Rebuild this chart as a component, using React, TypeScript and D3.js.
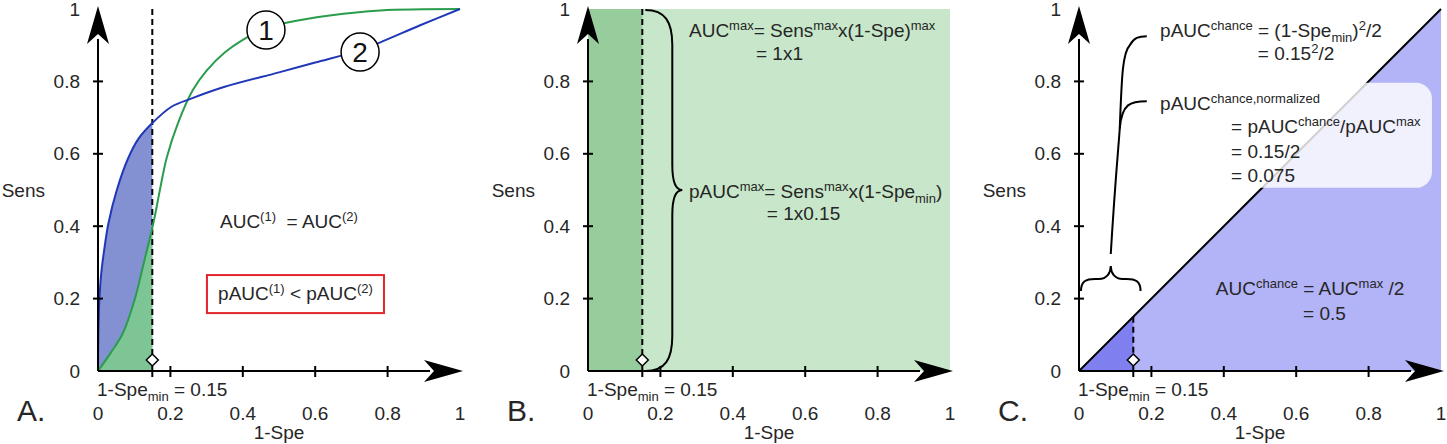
import React from 'react';
import * as d3 from 'd3';

type Pt = [number, number];
type Seg = [string, ('sup' | 'sub')?];

// threshold used in all three panels
const speMin = 0.15;

const xTickValues = [0, 0.2, 0.4, 0.6, 0.8, 1];
const xTickLabels = ['0', '0.2', '0.4', '0.6', '0.8', '1'];
const yTickValues = [0, 0.2, 0.4, 0.6, 0.8, 1];
const yTickLabels = ['0', '0.2', '0.4', '0.6', '0.8', '1'];
const panelLabels = ['A.', 'B.', 'C.'];

// ROC curve (1) - green
const roc1: Pt[] = [
  [0, 0], [0.035, 0.05], [0.069, 0.105], [0.101, 0.196], [0.124, 0.288], [0.153, 0.409],
  [0.171, 0.5], [0.19, 0.59], [0.221, 0.685], [0.262, 0.776], [0.3, 0.83], [0.35, 0.88],
  [0.4, 0.915], [0.46, 0.945], [0.52, 0.962], [0.64, 0.982], [0.78, 0.996], [1, 1],
];

// ROC curve (2) - blue
const roc2: Pt[] = [
  [0, 0], [0.001, 0.11], [0.004, 0.2], [0.009, 0.27], [0.017, 0.334], [0.029, 0.409],
  [0.052, 0.5], [0.083, 0.587], [0.112, 0.642], [0.148, 0.683], [0.203, 0.73], [0.259, 0.753],
  [0.35, 0.785], [0.5, 0.825], [0.6, 0.852], [0.72, 0.885], [0.78, 0.908], [0.89, 0.955], [1, 1],
];

// chance diagonal
const chance: Pt[] = [[0, 0], [1, 1]];

// curve labels: [name, x, y]
const curveLabels: [string, number, number][] = [['1', 0.464, 0.942], ['2', 0.724, 0.881]];

// annotation texts
const aucEqual: Seg[] = [['AUC'], ['(1)', 'sup'], ['  = AUC'], ['(2)', 'sup']];
const paucLess: Seg[] = [['pAUC'], ['(1)', 'sup'], [' < pAUC'], ['(2)', 'sup']];
const aucMax1: Seg[] = [['AUC'], ['max', 'sup'], ['= Sens'], ['max', 'sup'], ['x(1-Spe)'], ['max', 'sup']];
const aucMax2: Seg[] = [['= 1x1']];
const paucMax1: Seg[] = [['pAUC'], ['max', 'sup'], ['= Sens'], ['max', 'sup'], ['x(1-Spe'], ['min', 'sub'], [')']];
const paucMax2: Seg[] = [['= 1x0.15']];
const paucCh1: Seg[] = [['pAUC'], ['chance', 'sup'], [' = (1-Spe'], ['min', 'sub'], [')'], ['2', 'sup'], ['/2']];
const paucCh2: Seg[] = [['= 0.15'], ['2', 'sup'], ['/2']];
const paucNorm1: Seg[] = [['pAUC'], ['chance,normalized', 'sup']];
const paucNorm2: Seg[] = [['= pAUC'], ['chance', 'sup'], ['/pAUC'], ['max', 'sup']];
const paucNorm3: Seg[] = [['= 0.15/2']];
const paucNorm4: Seg[] = [['= 0.075']];
const aucCh1: Seg[] = [['AUC'], ['chance', 'sup'], [' = AUC'], ['max', 'sup'], [' /2']];
const aucCh2: Seg[] = [['= 0.5']];
const speMinLabel: Seg[] = [['1-Spe'], ['min', 'sub'], [' = 0.15']];

const W = 1447;
const H = 444;
const SIDE = 362;
const TOP = 9;
const panelX = [98, 588, 1079];
const TEXT = '#262626';
const FONT = '"Liberation Sans", Arial, Helvetica, sans-serif';

const RichText: React.FC<{ x: number; y: number; segs: Seg[]; size?: number; anchor?: string }> = ({
  x, y, segs, size = 19, anchor = 'start',
}) => {
  let shift = 0;
  return (
    <text x={x} y={y} fontSize={size} textAnchor={anchor} fill={TEXT} style={{ whiteSpace: 'pre' }}>
      {segs.map(([t, kind], i) => {
        const target = kind === 'sup' ? -7 : kind === 'sub' ? 5 : 0;
        const dy = target - shift;
        shift = target;
        return (
          <tspan key={i} dy={dy} fontSize={kind ? 13 : size}>
            {t}
          </tspan>
        );
      })}
    </text>
  );
};

const makeScales = (ox: number) => {
  const x = d3.scaleLinear().domain([0, 1]).range([ox, ox + SIDE]);
  const y = d3.scaleLinear().domain([0, 1]).range([TOP + SIDE, TOP]);
  return { x, y };
};

const Axes: React.FC<{ ox: number; label: string }> = ({ ox, label }) => {
  const { x, y } = makeScales(ox);
  const x0 = x(0), y0 = y(0), x1 = x(1), y1 = y(1);
  const xTickMarks = [speMin, ...xTickValues.slice(1, -1)];
  return (
    <g>
      <line x1={x0} y1={y0} x2={x1 - 30} y2={y0} stroke="#000" strokeWidth={2} />
      <path d={`M${x1 + 3},${y0} L${x1 - 36},${y0 - 11} L${x1 - 26},${y0} L${x1 - 36},${y0 + 11} Z`} fill="#000" />
      <line x1={x0} y1={y0} x2={x0} y2={y1 + 30} stroke="#000" strokeWidth={2} />
      <path d={`M${x0},${y1 - 3} L${x0 - 11},${y1 + 35} L${x0},${y1 + 25} L${x0 + 11},${y1 + 35} Z`} fill="#000" />
      {yTickValues.slice(1, -1).map((v) => (
        <line key={v} x1={x0 - 5} x2={x0 + 5} y1={y(v)} y2={y(v)} stroke="#000" strokeWidth={2} />
      ))}
      {xTickMarks.map((v) => (
        <line key={v} x1={x(v)} x2={x(v)} y1={y0 - 5} y2={y0 + 6} stroke="#000" strokeWidth={2} />
      ))}
      {yTickValues.map((v, i) => (
        <text key={v} x={x0 - 18} y={y(v) + 6.5} fontSize={19} textAnchor="end" fill={TEXT}>
          {yTickLabels[i]}
        </text>
      ))}
      {xTickValues.map((v, i) => (
        <text key={v} x={x(v)} y={420} fontSize={19} textAnchor="middle" fill={TEXT}>
          {xTickLabels[i]}
        </text>
      ))}
      <RichText x={x0 - 1} y={396} segs={speMinLabel} />
      <text x={(x0 + x1) / 2} y={439} fontSize={19} textAnchor="middle" fill={TEXT}>1-Spe</text>
      <text x={x0 - 53} y={y(0.5) + 7} fontSize={19} textAnchor="end" fill={TEXT}>Sens</text>
      <text x={x0 - 81} y={421} fontSize={30} fill={TEXT}>{label}</text>
    </g>
  );
};

const Marker: React.FC<{ ox: number; from: number }> = ({ ox, from }) => {
  const { x, y } = makeScales(ox);
  const cx = x(speMin);
  const cy = y(0) - 11;
  return (
    <g>
      <line x1={cx} x2={cx} y1={y(from)} y2={cy - 6} stroke="#000" strokeWidth={2} strokeDasharray="6 4" />
      <path d={`M${cx},${cy - 6} L${cx + 6},${cy} L${cx},${cy + 6} L${cx - 6},${cy} Z`} fill="#fff" stroke="#000" strokeWidth={1.5} />
    </g>
  );
};

const PanelA: React.FC = () => {
  const ox = panelX[0];
  const { x, y } = makeScales(ox);
  const smooth = d3.curveCatmullRom.alpha(0.5);
  const line = d3.line<Pt>().x((d) => x(d[0])).y((d) => y(d[1])).curve(smooth);
  // area closed back along the baseline so the edge follows the same curve as the line
  const areaPath = (pts: Pt[]) => `${line(pts)} L${x(1)},${y(0)} L${x(0)},${y(0)} Z`;
  const boxX0 = x(0.301), boxX1 = x(0.79), boxY0 = y(0.265), boxY1 = y(0.16);
  return (
    <g>
      <defs>
        <clipPath id="clipA">
          <rect x={x(0)} y={y(1)} width={x(speMin) - x(0)} height={y(0) - y(1)} />
        </clipPath>
      </defs>
      <g clipPath="url(#clipA)">
        <path d={areaPath(roc2)} fill="#8391d3" />
        <path d={areaPath(roc1)} fill="#7ec596" />
      </g>
      <Marker ox={ox} from={1} />
      <path d={line(roc1) || ''} fill="none" stroke="#2a9d4c" strokeWidth={2} />
      <path d={line(roc2) || ''} fill="none" stroke="#2038b8" strokeWidth={2} />
      <Axes ox={ox} label={panelLabels[0]} />
      {curveLabels.map(([n, cx, cy]) => (
        <g key={n}>
          <circle cx={x(cx)} cy={y(cy)} r={19} fill="#fff" stroke="#000" strokeWidth={1.5} />
          <text x={x(cx)} y={y(cy) + 10} fontSize={28} textAnchor="middle" fill="#111">{n}</text>
        </g>
      ))}
      <RichText x={x(0.337)} y={y(0.395)} segs={aucEqual} />
      <rect x={boxX0} y={boxY0} width={boxX1 - boxX0} height={boxY1 - boxY0} fill="none" stroke="#e3262b" strokeWidth={2} />
      <RichText x={(boxX0 + boxX1) / 2} y={y(0.196)} segs={paucLess} anchor="middle" />
    </g>
  );
};

const PanelB: React.FC = () => {
  const ox = panelX[1];
  const { x, y } = makeScales(ox);
  const bx = x(speMin) + 3, by0 = y(1) + 1, by1 = y(0), bym = y(0.5);
  const brace = `M${bx},${by0} C${bx + 20},${by0} ${bx + 27},${by0 + 12} ${bx + 27},${by0 + 35}
    L${bx + 27},${bym - 25} C${bx + 27},${bym - 8} ${bx + 30},${bym} ${bx + 37},${bym}
    C${bx + 30},${bym} ${bx + 27},${bym + 8} ${bx + 27},${bym + 25}
    L${bx + 27},${by1 - 35} C${bx + 27},${by1 - 12} ${bx + 20},${by1} ${bx},${by1}`;
  return (
    <g>
      <rect x={x(0)} y={y(1)} width={x(1) - x(0)} height={y(0) - y(1)} fill="#c8e6c9" />
      <rect x={x(0)} y={y(1)} width={x(speMin) - x(0)} height={y(0) - y(1)} fill="#97cd9c" />
      <Marker ox={ox} from={1} />
      <path d={brace} fill="none" stroke="#000" strokeWidth={2} />
      <Axes ox={ox} label={panelLabels[1]} />
      <RichText x={x(0.279)} y={y(0.923)} segs={aucMax1} />
      <RichText x={x(0.464)} y={y(0.859)} segs={aucMax2} />
      <RichText x={x(0.279)} y={y(0.478)} segs={paucMax1} />
      <RichText x={x(0.494)} y={y(0.417)} segs={paucMax2} />
    </g>
  );
};

const PanelC: React.FC = () => {
  const ox = panelX[2];
  const { x, y } = makeScales(ox);
  const tri = (t: number) => `M${x(0)},${y(0)} L${x(t)},${y(t)} L${x(t)},${y(0)} Z`;
  const line = d3.line<Pt>().x((d) => x(d[0])).y((d) => y(d[1]));
  // horizontal brace over [0, 0.17]
  const xa = x(0) + 2, xb = x(0.17), xm = (xa + xb) / 2;
  const yb = y(0.221), yf = yb - 12, yp = yb - 25;
  const brace = `M${xa},${yb} C${xa},${yf + 2} ${xa + 5},${yf} ${xa + 14},${yf} L${xm - 12},${yf}
    C${xm - 4},${yf} ${xm},${yf - 6} ${xm},${yp} C${xm},${yf - 6} ${xm + 4},${yf} ${xm + 12},${yf}
    L${xb - 14},${yf} C${xb - 5},${yf} ${xb},${yf + 2} ${xb},${yb}`;
  const stemTop = y(0.67);
  const stem = `M${xm},${yp - 12} C${xm + 4},${yp - 80} ${xm + 8},${stemTop + 15} ${xm + 9},${stemTop}
    C${xm + 11},${y(0.74)} ${xm + 20},${y(0.745)} ${xm + 36},${y(0.745)}`;
  const stem2 = `M${xm + 9},${stemTop} C${xm + 11},${y(0.82)} ${xm + 12},${y(0.88)} ${xm + 19},${y(0.9)}
    C${xm + 23},${y(0.92)} ${xm + 28},${y(0.925)} ${xm + 36},${y(0.925)}`;
  return (
    <g>
      <path d={tri(1)} fill="#b3b3f7" />
      <path d={tri(speMin)} fill="#7f7ff0" />
      <path d={line(chance) || ''} fill="none" stroke="#000" strokeWidth={2} />
      <rect x={x(0.45)} y={y(0.796)} width={x(0.975) - x(0.45)} height={y(0.506) - y(0.796)} rx={16} fill="#fff" fillOpacity={0.82} />
      <Marker ox={ox} from={speMin} />
      <Axes ox={ox} label={panelLabels[2]} />
      <path d={brace} fill="none" stroke="#000" strokeWidth={2} />
      <path d={stem} fill="none" stroke="#000" strokeWidth={2} />
      <path d={stem2} fill="none" stroke="#000" strokeWidth={2} />
      <RichText x={x(0.224)} y={y(0.923)} segs={paucCh1} />
      <RichText x={x(0.494)} y={y(0.859)} segs={paucCh2} />
      <RichText x={x(0.224)} y={y(0.721)} segs={paucNorm1} />
      <RichText x={x(0.42)} y={y(0.657)} segs={paucNorm2} />
      <RichText x={x(0.42)} y={y(0.588)} segs={paucNorm3} />
      <RichText x={x(0.42)} y={y(0.522)} segs={paucNorm4} />
      <RichText x={x(0.378)} y={y(0.21)} segs={aucCh1} />
      <RichText x={x(0.619)} y={y(0.141)} segs={aucCh2} />
    </g>
  );
};

const App: React.FC = () => (
  <svg
    width={W}
    height={H}
    style={{ position: 'absolute', left: 0, top: 0, background: '#fff' }}
    fontFamily={FONT}
  >
    <rect width={W} height={H} fill="#fff" />
    <PanelA />
    <PanelB />
    <PanelC />
  </svg>
);

export default App;
